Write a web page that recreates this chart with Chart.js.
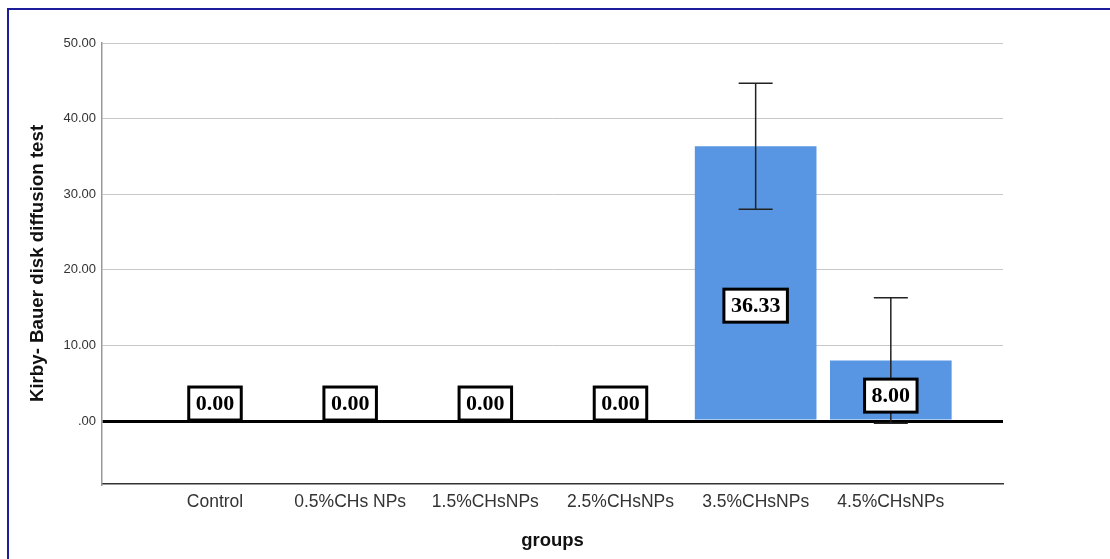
<!DOCTYPE html>
<html>
<head>
<meta charset="utf-8">
<script src="https://cdn.jsdelivr.net/npm/chart.js@4.4.1/dist/chart.umd.min.js"></script>
<style>
  html, body { margin: 0; padding: 0; background: #fff; }
  #wrap { position: relative; width: 1110px; height: 559px; overflow: hidden; }
  #frame { position: absolute; left: 7px; top: 8px; width: 1200px; height: 700px;
           border-top: 2px solid #1c1c9c; border-left: 2px solid #1c1c9c; }
  canvas { position: absolute; left: 0; top: 0; }
</style>
</head>
<body>
<div id="wrap">
  <div id="frame"></div>
  <canvas id="c" width="1110" height="559"></canvas>
</div>
<script>
// ---- data ----
const categories = ['Control', '0.5%CHs NPs', '1.5%CHsNPs', '2.5%CHsNPs', '3.5%CHsNPs', '4.5%CHsNPs'];
const means      = [0, 0, 0, 0, 36.33, 8.00];
const errLow     = [0, 0, 0, 0, 28.0, -0.3];
const errHigh    = [0, 0, 0, 0, 44.66, 16.3];
const yTickValues = [0, 10, 20, 30, 40, 50];
const yMin = -8.33;
const yMax = 50;

const fmtTick = v => (v === 0 ? '.00' : v.toFixed(2));

const errorBarPlugin = {
  id: 'errorBars',
  afterDatasetsDraw(chart) {
    const { ctx, scales: { x, y } } = chart;
    ctx.save();
    ctx.strokeStyle = '#222';
    ctx.lineWidth = 1.5;
    for (let i = 0; i < categories.length; i++) {
      if (errHigh[i] === errLow[i]) continue;
      const px = x.getPixelForValue(i);
      const top = y.getPixelForValue(errHigh[i]);
      const bot = y.getPixelForValue(errLow[i]);
      const half = 17;
      ctx.beginPath();
      ctx.moveTo(px, top); ctx.lineTo(px, bot);
      ctx.moveTo(px - half, top); ctx.lineTo(px + half, top);
      ctx.moveTo(px - half, bot); ctx.lineTo(px + half, bot);
      ctx.stroke();
    }
    ctx.restore();
  }
};

const labelBoxPlugin = {
  id: 'labelBoxes',
  afterDraw(chart) {
    const { ctx, scales: { x, y } } = chart;
    ctx.save();
    ctx.font = 'bold 22px "Liberation Serif", "Times New Roman", serif';
    ctx.textAlign = 'center';
    ctx.textBaseline = 'middle';
    const zeroPx = y.getPixelForValue(0);
    for (let i = 0; i < categories.length; i++) {
      const txt = means[i].toFixed(2);
      const w = ctx.measureText(txt).width + 14;
      const h = 33;
      const px = x.getPixelForValue(i);
      let cy = y.getPixelForValue(means[i] * 0.42);
      cy = Math.min(cy, zeroPx - h / 2 - 1);
      ctx.fillStyle = '#fff';
      ctx.fillRect(px - w / 2, cy - h / 2, w, h);
      ctx.lineWidth = 3;
      ctx.strokeStyle = '#000';
      ctx.strokeRect(px - w / 2, cy - h / 2, w, h);
      ctx.fillStyle = '#000';
      ctx.fillText(txt, px, cy + 1);
    }
    ctx.restore();
  }
};

new Chart(document.getElementById('c'), {
  type: 'bar',
  data: {
    datasets: [{
      data: means.map((v, i) => ({ x: i, y: v })),
      backgroundColor: '#5896e4',
      borderWidth: 0,
      barPercentage: 0.9,
      categoryPercentage: 1.0
    }]
  },
  options: {
    responsive: false,
    animation: false,
    devicePixelRatio: 1,
    layout: { padding: { top: 43, right: 107, left: 0, bottom: 0 } },
    plugins: { legend: { display: false }, tooltip: { enabled: false } },
    scales: {
      x: {
        type: 'linear',
        offset: false,
        min: -0.836,
        max: 5.83,
        afterBuildTicks: s => { s.ticks = categories.map((_, i) => ({ value: i })); },
        afterFit: s => { s.height = 75; },
        grid: { display: false, drawTicks: false },
        border: { display: true, color: '#333', width: 1.5 },
        ticks: {
          autoSkip: false, maxRotation: 0, padding: 8,
          color: '#333',
          font: { family: '"Liberation Sans", Arial, sans-serif', size: 17.5 },
          callback: v => categories[v]
        },
        title: {
          display: true, text: 'groups', color: '#111',
          font: { family: '"Liberation Sans", Arial, sans-serif', size: 18.5, weight: 'bold' },
          padding: { top: 0, bottom: 7 }
        }
      },
      y: {
        min: yMin,
        max: yMax,
        afterBuildTicks: s => { s.ticks = yTickValues.map(v => ({ value: v })); },
        afterFit: s => { s.width = 102; },
        grid: {
          drawTicks: false,
          color: c => (c.tick && c.tick.value === 0 ? '#000' : '#c8c8c8'),
          lineWidth: c => (c.tick && c.tick.value === 0 ? 3 : 1)
        },
        border: { display: true, color: '#999', width: 1.5 },
        ticks: {
          padding: 6, color: '#333',
          font: { family: '"Liberation Sans", Arial, sans-serif', size: 13 },
          callback: v => fmtTick(v)
        },
        title: {
          display: true, text: 'Kirby- Bauer disk diffusion test', color: '#111',
          font: { family: '"Liberation Sans", Arial, sans-serif', size: 18.7, weight: 'bold' },
          padding: { top: 27, bottom: 0 }
        }
      }
    }
  },
  plugins: [errorBarPlugin, labelBoxPlugin]
});
</script>
</body>
</html>
